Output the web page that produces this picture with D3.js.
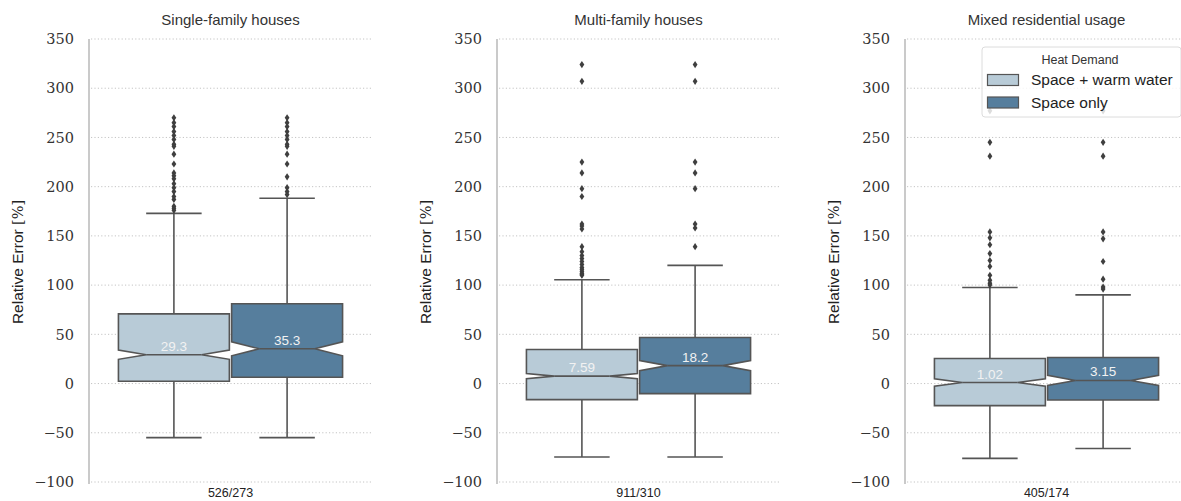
<!DOCTYPE html>
<html>
<head>
<meta charset="utf-8">
<script src="https://cdn.jsdelivr.net/npm/d3@7"></script>
<style>
  html, body { margin: 0; padding: 0; background: #fff; }
  svg { display: block; }
</style>
</head>
<body>
<svg id="chart" width="1181" height="501"></svg>
<script>
// Relative error of heat demand estimates, per building type
const panels = ["Single-family houses", "Multi-family houses", "Mixed residential usage"];
const hues = ["Space + warm water", "Space only"];
const counts = [[526, 273], [911, 310], [405, 174]];
const medians = [[29.3, 35.3], [7.59, 18.2], [1.02, 3.15]];
const q1 = [[2.3, 6.4], [-16.3, -10.2], [-22.4, -16.7]];
const q3 = [[70.8, 81.0], [34.6, 46.8], [25.4, 26.4]];
const whiskerLow = [[-54.9, -54.9], [-74.6, -74.6], [-76.0, -66.0]];
const whiskerHigh = [[172.9, 188.2], [105.4, 120.0], [97.6, 90.1]];
const outliers = [
  [
    [270, 265, 261, 256, 252, 248, 243, 241, 233, 223, 214, 211, 208, 203, 199, 195, 190, 187, 180, 178, 176],
    [270, 265, 261, 256, 252, 248, 243, 241, 233, 223, 210, 199, 195, 192]
  ],
  [
    [324, 307, 225, 214, 198, 190, 162, 160, 157, 139, 134, 130, 127, 124, 121, 118, 116, 114, 112, 111, 110],
    [324, 307, 225, 214, 198, 162, 158, 139]
  ],
  [
    [277, 245, 231, 154, 148, 141, 132, 125, 119, 110, 105, 102, 100],
    [277, 245, 231, 154, 147, 124, 106, 98, 96]
  ]
];
const yTicks = [-100, -50, 0, 50, 100, 150, 200, 250, 300, 350];
const colors = ["#b8cbd7", "#567e9d"];

const serif = "'DejaVu Serif', 'Liberation Serif', serif";
const sans = "'Liberation Sans', Arial, sans-serif";

const svg = d3.select("#chart");
const y = d3.scaleLinear().domain([-100, 350]).range([482, 39]);
const panelLeft = [89, 497, 905];
const panelWidth = 283;
const edge = "#555555";
const fmtTick = d => (d < 0 ? "\u2212" + Math.abs(d) : String(d));

panels.forEach((title, p) => {
  const x0 = panelLeft[p];
  const x1 = x0 + panelWidth;
  const label = counts[p].join("/");
  const x = d3.scaleBand().domain([label]).range([x0, x1]);
  const groupW = x.bandwidth() * 0.8;
  const cx = x(label) + x.bandwidth() / 2;
  const hx = d3.scaleBand().domain(hues).range([cx - groupW / 2, cx + groupW / 2]);
  const g = svg.append("g");

  // dotted horizontal grid
  g.selectAll("line.grid").data(yTicks).join("line")
    .attr("x1", x0 + 2).attr("x2", x1)
    .attr("y1", d => y(d)).attr("y2", d => y(d))
    .attr("stroke", "#c4c4c4").attr("stroke-width", 1)
    .attr("stroke-dasharray", "1.2,2.2");

  // left spine
  g.append("line")
    .attr("x1", x0).attr("x2", x0)
    .attr("y1", y(350)).attr("y2", y(-100) + 2)
    .attr("stroke", "#bdbdbd").attr("stroke-width", 1.6);

  // y tick labels
  g.selectAll("text.ytick").data(yTicks).join("text")
    .attr("x", x0 - 15).attr("y", d => y(d))
    .attr("dy", "0.36em").attr("text-anchor", "end")
    .attr("font-family", serif)
    .attr("font-size", 14.5).attr("fill", "#333")
    .text(fmtTick);

  // y axis title
  const yt = g.append("text")
    .attr("transform", `translate(${x0 - 66},262) rotate(-90)`)
    .attr("text-anchor", "middle")
    .attr("font-family", sans)
    .attr("font-size", 15.5).attr("fill", "#222");
  yt.append("tspan").text("Relative Error ");
  yt.append("tspan").attr("font-family", serif).attr("font-size", 14.5).text("[%]");

  // panel title
  g.append("text")
    .attr("x", cx).attr("y", 25).attr("text-anchor", "middle")
    .attr("font-family", sans)
    .attr("font-size", 15).attr("fill", "#333")
    .text(title);

  // x tick label (counts)
  g.append("text")
    .attr("x", cx).attr("y", 497).attr("text-anchor", "middle")
    .attr("font-family", sans)
    .attr("font-size", 12.5).attr("fill", "#222")
    .text(label);

  hues.forEach((h, i) => {
    const bw = hx.bandwidth() * 0.98;
    const left = hx(h) + (hx.bandwidth() - bw) / 2;
    const right = left + bw;
    const mid = left + bw / 2;
    const med = medians[p][i], lo = q1[p][i], hi = q3[p][i];
    const half = 1.57 * (hi - lo) / Math.sqrt(counts[p][i]);
    const nLo = med - half, nHi = med + half;
    const inset = bw / 4;

    // whiskers
    g.append("line").attr("x1", mid).attr("x2", mid)
      .attr("y1", y(hi)).attr("y2", y(whiskerHigh[p][i]))
      .attr("stroke", edge).attr("stroke-width", 1.6);
    g.append("line").attr("x1", mid).attr("x2", mid)
      .attr("y1", y(lo)).attr("y2", y(whiskerLow[p][i]))
      .attr("stroke", edge).attr("stroke-width", 1.6);
    [whiskerHigh[p][i], whiskerLow[p][i]].forEach(v => {
      g.append("line").attr("x1", mid - bw / 4).attr("x2", mid + bw / 4)
        .attr("y1", y(v)).attr("y2", y(v))
        .attr("stroke", edge).attr("stroke-width", 1.6);
    });

    // notched box
    const pts = [
      [left, y(lo)], [right, y(lo)], [right, y(nLo)], [right - inset, y(med)],
      [right, y(nHi)], [right, y(hi)], [left, y(hi)], [left, y(nHi)],
      [left + inset, y(med)], [left, y(nLo)]
    ];
    g.append("path")
      .attr("d", d3.line()(pts) + "Z")
      .attr("fill", colors[i]).attr("stroke", edge)
      .attr("stroke-width", 1.6).attr("stroke-linejoin", "miter");

    // median line
    g.append("line").attr("x1", left + inset).attr("x2", right - inset)
      .attr("y1", y(med)).attr("y2", y(med))
      .attr("stroke", edge).attr("stroke-width", 1.6);

    // median value label
    g.append("text")
      .attr("x", mid).attr("y", y(med) - 4)
      .attr("text-anchor", "middle")
      .attr("font-family", sans)
      .attr("font-size", 13.5).attr("fill", "#f2f2f2")
      .text(String(med));

    // outliers as diamonds
    g.selectAll(null).data(outliers[p][i]).join("path")
      .attr("d", "M0,-3.6L2.4,0L0,3.6L-2.4,0Z")
      .attr("transform", d => `translate(${mid},${y(d)})`)
      .attr("fill", "#3f3f3f");
  });
});

// legend, drawn over the last panel
const lg = svg.append("g").attr("transform", "translate(982,47)");
lg.append("rect")
  .attr("width", 199).attr("height", 70).attr("rx", 3)
  .attr("fill", "#fff").attr("fill-opacity", 0.82)
  .attr("stroke", "#dcdcdc").attr("stroke-width", 1);
lg.append("text")
  .attr("x", 98).attr("y", 17).attr("text-anchor", "middle")
  .attr("font-family", sans)
  .attr("font-size", 12.5).attr("fill", "#333")
  .text("Heat Demand");
hues.forEach((h, i) => {
  lg.append("rect")
    .attr("x", 5.5).attr("y", 27.5 + i * 22.5).attr("width", 31).attr("height", 11)
    .attr("fill", colors[i]).attr("stroke", edge).attr("stroke-width", 1.2);
  lg.append("text")
    .attr("x", 49).attr("y", 33 + i * 22.5).attr("dy", "0.35em")
    .attr("font-family", sans)
    .attr("font-size", 15.5).attr("fill", "#222")
    .text(h);
});
</script>
</body>
</html>
